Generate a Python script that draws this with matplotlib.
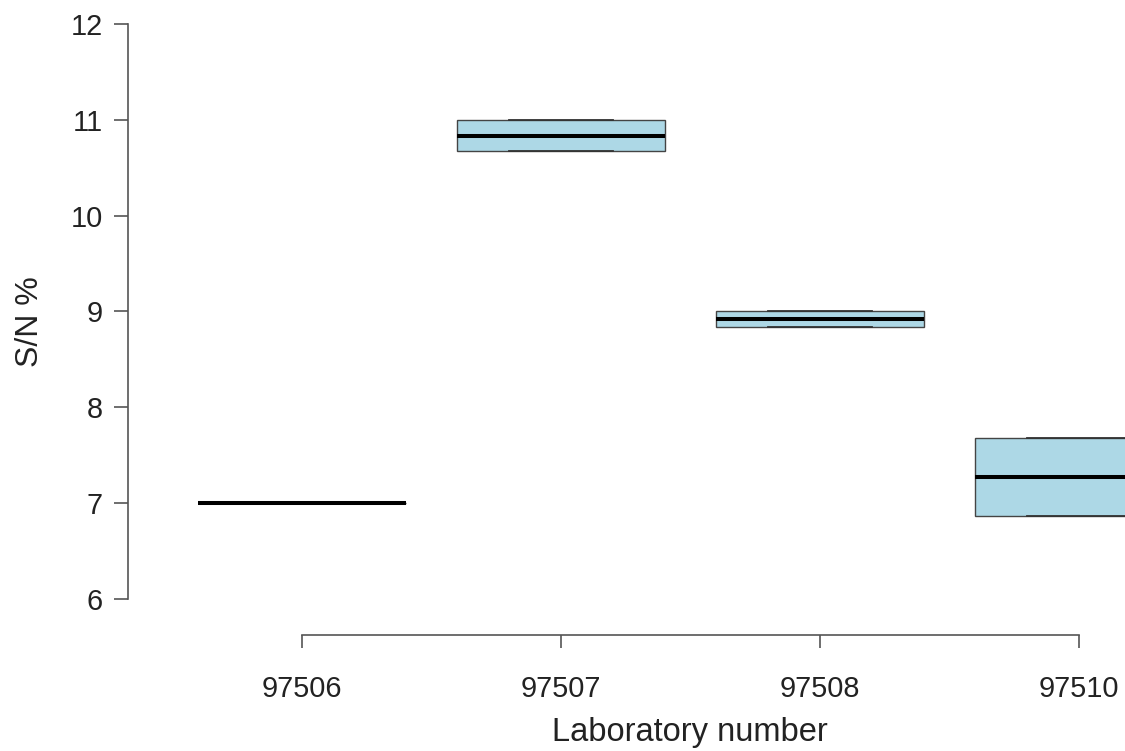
import matplotlib
matplotlib.use("Agg")
import matplotlib.pyplot as plt
import numpy as np

plt.rcParams['font.family'] = ['Liberation Sans', 'DejaVu Sans']

# two results per laboratory
labs = ['97506', '97507', '97508', '97510']
low = [7.00, 10.67, 8.84, 6.87]
high = [7.00, 11.00, 9.00, 7.68]

# R-style boxplot stats for n=2: hinges are the extremes
stats = []
for lab, lo, hi in zip(labs, low, high):
    med = np.median([lo, hi])
    stats.append(dict(label=lab, med=med, q1=lo, q3=hi,
                      whislo=lo, whishi=hi, fliers=[]))

fig = plt.figure(figsize=(11.25, 7.51), dpi=100)
ax = fig.add_axes([128 / 1125, (751 - 635) / 751, 1 - 128 / 1125, (635 - 24) / 751])

pos = np.arange(1, len(labs) + 1)
ax.bxp(stats, positions=pos, widths=0.8, capwidths=0.4, patch_artist=True,
       boxprops=dict(facecolor='#ADD8E6', edgecolor='#444444', linewidth=1.0),
       medianprops=dict(color='black', linewidth=2.9, solid_capstyle='butt'),
       whiskerprops=dict(color='#444444', linewidth=1.0, linestyle='--'),
       capprops=dict(color='#333333', linewidth=1.3))

ax.set_xlim(0.328, 1 + (1125 - 302) / 259)
ax.set_ylim(6 - (635 - 599) / 95.83, 12)
ax.set_yticks(range(6, 13))
ax.set_xticks(pos)
ax.set_xticklabels(labs)

for s in ['top', 'right']:
    ax.spines[s].set_visible(False)
ax.spines['left'].set_bounds(6, 12)
ax.spines['bottom'].set_bounds(1, 4)
for s in ['left', 'bottom']:
    ax.spines[s].set_color('#555555')
    ax.spines[s].set_linewidth(1.2)

ax.tick_params(axis='y', length=10, width=1.2, color='#555555', pad=8,
               labelsize=20.8, labelcolor='#222222')
ax.tick_params(axis='x', length=9.5, width=1.2, color='#555555', pad=19,
               labelsize=20.8, labelcolor='#222222')

fig.text(690 / 1125, 1 - 733 / 751, 'Laboratory number', ha='center', va='center',
         fontsize=23.5, color='#222222')
fig.text(30 / 1125, 1 - 322 / 751, 'S/N %', ha='center', va='center',
         rotation=90, fontsize=23, color='#222222')

fig.savefig('out.png', dpi=100)
